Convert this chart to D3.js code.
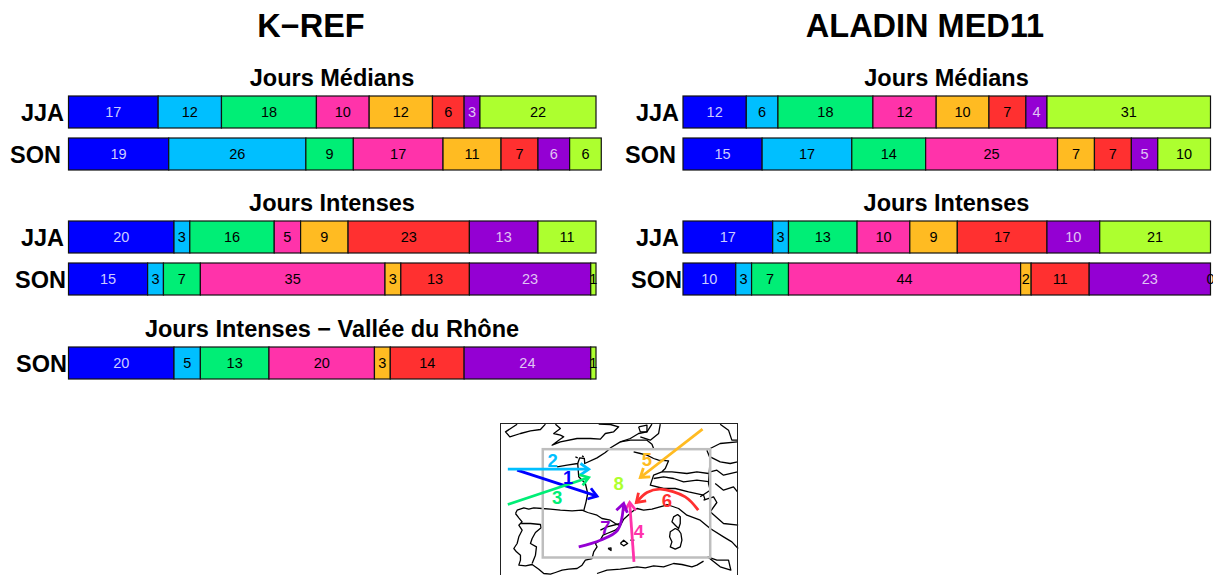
<!DOCTYPE html>
<html>
<head>
<meta charset="utf-8">
<script src="https://cdn.jsdelivr.net/npm/d3@7"></script>
<style>
    html, body { margin: 0; padding: 0; background: #fff; overflow: hidden; }
    text { font-family: "Liberation Sans", Arial, sans-serif; }
</style>
</head>
<body>
<svg id="chart" width="1213" height="575"></svg>
<script>
// Regimes, in the order of the stacked bars
const regimeColors = ['#0000ff', '#00bfff', '#00ee76', '#ff33aa', '#ffbb22', '#ff3030', '#9400d3', '#adff2f'];
const labelColors = ['#ccccff', '#000', '#000', '#000', '#000', '#000', '#e0c4f4', '#000'];

// K-REF
const krefMedJJA = [17, 12, 18, 10, 12, 6, 3, 22];
const krefMedSON = [19, 26, 9, 17, 11, 7, 6, 6];
const krefIntJJA = [20, 3, 16, 5, 9, 23, 13, 11];
const krefIntSON = [15, 3, 7, 35, 3, 13, 23, 1];
const krefRhoneSON = [20, 5, 13, 20, 3, 14, 24, 1];

// ALADIN MED11
const aladinMedJJA = [12, 6, 18, 12, 10, 7, 4, 31];
const aladinMedSON = [15, 17, 14, 25, 7, 7, 5, 10];
const aladinIntJJA = [17, 3, 13, 10, 9, 17, 10, 21];
const aladinIntSON = [10, 3, 7, 44, 2, 11, 23, 0];

// Map lines in crop units
const coastLines = [
    // Ireland, Wales and south England
    [[80,27],[65,37],[45,50],[58,65],[90,55],[120,47],[150,43],[165,27]],
    [[195,27],[210,40],[190,55],[210,60],[220,65],[205,75],[185,90],[210,80],[260,70],[300,70],[330,72],[345,55],[370,50],[385,35],[360,28],[325,27]],
    // Channel coast and Low Countries
    [[200,155],[230,150],[262,145],[268,128],[282,130],[283,145],[320,128],[345,112],[362,97],[390,80],[420,70],[445,55],[470,50],[485,27]],
    [[510,27],[505,55],[480,75],[450,65]],
    [[445,35],[470,30],[470,50],[450,50],[445,35]],
    [[390,80],[420,75],[470,75],[485,87],[490,100]],
    // Atlantic coast of France
    [[262,145],[265,185],[285,205],[292,235],[287,260],[280,287]],
    // Iberia
    [[75,295],[80,285],[100,278],[115,282],[130,278],[155,280],[180,282],[210,285],[245,287],[275,285],[292,292],[320,300],[335,310],[360,315],[375,325],[390,332]],
    [[390,332],[375,345],[350,355],[338,360],[330,375],[315,385],[320,395],[310,410],[305,430],[285,435],[275,450],[260,460],[235,462],[215,465],[195,472],[180,477],[160,475],[145,462],[125,448],[105,452],[85,450],[90,435],[90,420],[78,410],[70,400],[80,385],[85,365],[95,345],[85,330],[95,320],[85,308],[75,295]],
    [[92,325],[120,325],[150,328],[152,338],[135,352],[125,370],[120,385],[138,395],[135,420],[125,445]],
    [[390,325],[350,335],[330,345]],
    // Mediterranean coast of France and Italy
    [[390,332],[400,312],[425,290],[440,280],[460,285],[485,282],[520,272],[530,268],[565,280],[590,300],[630,315],[660,340],[700,365],[725,380],[744,400]],
    [[660,290],[700,325],[744,330]],
    // Borders
    [[430,110],[450,115],[470,120],[490,130],[505,135],[535,137],[525,160],[515,170],[490,180],[480,210],[520,220],[555,220],[595,230],[640,240],[645,255]],
    [[515,170],[545,170],[590,175],[620,170],[655,175]],
    [[490,190],[520,185],[550,190],[580,200],[620,195],[660,200]],
    [[690,27],[715,45],[725,75],[742,75]],
    [[660,100],[690,85],[742,80]],
    [[660,125],[690,140],[720,145],[742,140]],
    [[660,170],[680,165],[700,180],[742,170]],
    [[675,205],[700,225],[730,215],[742,230]],
    [[640,255],[670,245],[680,262],[660,290]],
    [[630,245],[660,225],[655,205],[660,130],[650,105]],
    // North Africa and Sicily
    [[320,475],[350,465],[390,462],[420,458],[440,455],[465,458],[490,452],[520,455],[550,445],[575,448],[605,455],[620,450],[640,438]],
    [[652,425],[680,435],[715,435],[722,465],[690,455],[652,425]],
    // Islands
    [[390,385],[400,375],[412,385],[400,392],[390,385]],
    [[353,400],[362,398],[362,406],[353,400]],
    [[420,375],[432,375]],
    [[562,298],[550,305],[545,320],[555,330],[565,340],[570,325],[570,305],[562,298]],
    [[555,340],[540,350],[538,365],[545,380],[540,395],[555,402],[570,395],[575,375],[572,355],[565,345],[555,340]],
    [[255,125],[262,128]],
    [[275,122],[280,125]]
];
const regionBox = [157, 102, 660, 427];
const mapFrame = [30, 25, 742, 520];

const arrowLines = [
    [[80,165],[320,243]],
    [[52,162],[295,162]],
    [[52,268],[295,187]],
    [[431,440],[418,262]],
    [[637,42],[450,187]],
    [[624,285],[585,245],[510,222],[470,232],[438,262]],
    [[265,395],[330,375],[382,345],[400,265]]
];
const mapLabels = ['1', '2', '3', '4', '5', '6', '7', '8'];
const mapLabelSpots = [[233,186],[187,137],[200,248],[446,348],[470,132],[530,255],[345,337],[385,205]];

const svg = d3.select('#chart');
const barHeight = 32;
const unitWidth = 5.275;

const panels = [
    { title: 'K\u2212REF', titleX: 311, x0: 68.5, groups: [
        { title: 'Jours Médians', y: 78, rows: [['JJA', krefMedJJA, 96, 64], ['SON', krefMedSON, 138, 61]] },
        { title: 'Jours Intenses', y: 203, rows: [['JJA', krefIntJJA, 221, 64], ['SON', krefIntSON, 263, 66]] },
        { title: 'Jours Intenses \u2212 Vallée du Rhône', y: 329, rows: [['SON', krefRhoneSON, 347, 67]] }
    ]},
    { title: 'ALADIN MED11', titleX: 925, x0: 683, groups: [
        { title: 'Jours Médians', y: 78, rows: [['JJA', aladinMedJJA, 96, 679], ['SON', aladinMedSON, 138, 676]] },
        { title: 'Jours Intenses', y: 203, rows: [['JJA', aladinIntJJA, 221, 679], ['SON', aladinIntSON, 263, 682]] }
    ]}
];

panels.forEach(panel => {
    svg.append('text')
        .attr('x', panel.titleX)
        .attr('y', 37)
        .attr('text-anchor', 'middle')
        .attr('font-size', 32.5)
        .attr('font-weight', 'bold')
        .text(panel.title);

    const x = d3.scaleLinear().domain([0, 100]).range([panel.x0, panel.x0 + 100 * unitWidth]);
    const groupCenter = panel.x0 + 263.5;

    panel.groups.forEach(group => {
        svg.append('text')
            .attr('x', groupCenter)
            .attr('y', group.y + 8)
            .attr('text-anchor', 'middle')
            .attr('font-size', 23.5)
            .attr('font-weight', 'bold')
            .text(group.title);

        group.rows.forEach(([season, values, top, labelEnd]) => {
            svg.append('text')
                .attr('x', labelEnd)
                .attr('y', top + 25)
                .attr('text-anchor', 'end')
                .attr('font-size', 23.5)
                .attr('font-weight', 'bold')
                .text(season);

            const starts = d3.cumsum([0].concat(values));
            const row = svg.append('g').selectAll('g').data(values).join('g');

            row.append('rect')
                .attr('x', (d, i) => x(starts[i]))
                .attr('y', top)
                .attr('width', d => x(d) - x(0))
                .attr('height', barHeight)
                .attr('fill', (d, i) => regimeColors[i])
                .attr('stroke', '#111')
                .attr('stroke-width', 1.2);

            row.append('text')
                .attr('x', (d, i) => x(starts[i] + d / 2))
                .attr('y', top + 21)
                .attr('text-anchor', 'middle')
                .attr('font-size', 14.5)
                .attr('fill', (d, i) => labelColors[i])
                .text(d => d);
        });
    });
});

// Map
const mapX = d3.scaleLinear().domain([30, 742]).range([500.5, 737.5]);
const mapY = d3.scaleLinear().domain([25, 505]).range([423.5, 583.5]);
const mapLine = d3.line().x(d => mapX(d[0])).y(d => mapY(d[1]));
const mapCurve = d3.line().x(d => mapX(d[0])).y(d => mapY(d[1])).curve(d3.curveCatmullRom);

const map = svg.append('g');

map.selectAll('path.coast')
    .data(coastLines)
    .join('path')
    .attr('class', 'coast')
    .attr('d', mapLine)
    .attr('fill', 'none')
    .attr('stroke', '#000')
    .attr('stroke-width', 1.3)
    .attr('stroke-linejoin', 'round');

map.append('rect')
    .attr('x', mapX(mapFrame[0]))
    .attr('y', mapY(mapFrame[1]))
    .attr('width', mapX(mapFrame[2]) - mapX(mapFrame[0]))
    .attr('height', mapY(mapFrame[3]) - mapY(mapFrame[1]))
    .attr('fill', 'none')
    .attr('stroke', '#222')
    .attr('stroke-width', 1);

map.append('rect')
    .attr('x', mapX(regionBox[0]))
    .attr('y', mapY(regionBox[1]))
    .attr('width', mapX(regionBox[2]) - mapX(regionBox[0]))
    .attr('height', mapY(regionBox[3]) - mapY(regionBox[1]))
    .attr('fill', 'none')
    .attr('stroke', '#bebebe')
    .attr('stroke-width', 2.5);

function arrowHead(points) {
    const tip = points[points.length - 1];
    const prev = points[points.length - 2];
    const angle = Math.atan2(mapY(tip[1]) - mapY(prev[1]), mapX(tip[0]) - mapX(prev[0]));
    const size = 10;
    const wing = a => [mapX(tip[0]) - size * Math.cos(angle + a), mapY(tip[1]) - size * Math.sin(angle + a)];
    return d3.line()([wing(0.6), [mapX(tip[0]), mapY(tip[1])], wing(-0.6)]);
}

arrowLines.forEach((points, i) => {
    map.append('path')
        .attr('d', mapCurve(points))
        .attr('fill', 'none')
        .attr('stroke', regimeColors[i])
        .attr('stroke-width', 2.8);
    map.append('path')
        .attr('d', arrowHead(points))
        .attr('fill', 'none')
        .attr('stroke', regimeColors[i])
        .attr('stroke-width', 2.8);
});

map.selectAll('text.regime')
    .data(mapLabels)
    .join('text')
    .attr('class', 'regime')
    .attr('x', (d, i) => mapX(mapLabelSpots[i][0]))
    .attr('y', (d, i) => mapY(mapLabelSpots[i][1]) + 6.5)
    .attr('text-anchor', 'middle')
    .attr('font-size', 18.5)
    .attr('font-weight', 'bold')
    .attr('fill', (d, i) => regimeColors[i])
    .text(d => d);
</script>
</body>
</html>
